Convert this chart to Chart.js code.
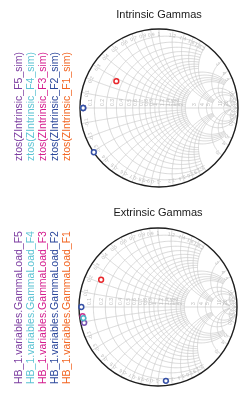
<!DOCTYPE html>
<html>
<head>
<meta charset="utf-8">
<script src="https://cdn.jsdelivr.net/npm/chart.js@4.4.0/dist/chart.umd.min.js"></script>
<style>
    html, body { margin: 0; padding: 0; background: #fff; }
    body { width: 250px; height: 405px; position: relative; overflow: hidden; font-family: "Liberation Sans", Arial, sans-serif; }
    .chart-box { position: absolute; left: 70px; width: 180px; }
    .legend { position: absolute; transform: rotate(-90deg); font-size: 10.5px; line-height: 12px; white-space: nowrap; }
    .legend div { height: 12px; }
</style>
</head>
<body>
<div class="chart-box" style="top:0; height:200px;"><canvas id="smith-intrinsic"></canvas></div>
<div class="chart-box" style="top:200px; height:205px;"><canvas id="smith-extrinsic"></canvas></div>
<div class="legend" id="legend-intrinsic"></div>
<div class="legend" id="legend-extrinsic"></div>

<script>
/* ── Trace naming (order: F5 .. F1, left to right in the legend) ── */
var intrinsicNames = ['ztos(ZIntrinsic_F5_sim)', 'ztos(ZIntrinsic_F4_sim)', 'ztos(ZIntrinsic_F3_sim)', 'ztos(ZIntrinsic_F2_sim)', 'ztos(ZIntrinsic_F1_sim)'];
var extrinsicNames = ['HB_1.variables.GammaLoad_F5', 'HB_1.variables.GammaLoad_F4', 'HB_1.variables.GammaLoad_F3', 'HB_1.variables.GammaLoad_F2', 'HB_1.variables.GammaLoad_F1'];
var legendColors = ['#7b3ca0', '#5cc3d3', '#d41a8c', '#2b479b', '#f26522'];
var markerColors = ['#7a55b2', '#4cb6c9', '#c8348f', '#3550a6', '#e8262b'];
// draw order: lower is on top (F2 markers sit above the others)
var markerOrder = [3, 2, 4, 0, 1];

/* ── Reflection coefficients [re, im] per trace ── */
var intrinsicGamma = [
    [[-0.96, 0.0]],
    [[-0.96, 0.0]],
    [[-0.96, 0.0]],
    [[-0.96, 0.0], [-0.825, -0.56]],
    [[-0.54, 0.34]]
];
var extrinsicGamma = [
    [[-0.935, -0.20]],
    [[-0.945, -0.14]],
    [[-0.955, -0.115]],
    [[-0.97, 0.0], [0.10, -0.935]],
    [[-0.72, 0.345]]
];

/* ── Smith grid values (resistance / reactance) ── */
var fineValues = [0.1, 0.2, 0.3, 0.4, 0.5, 0.6, 0.7, 0.8, 0.9, 1.0];
var midValues = [1.2, 1.4, 1.6, 1.8, 2.0];
var coarseValues = [3, 4, 5];
var outerValues = [10, 20];

var gridGroups = [
    { values: fineValues, limit: 2 },
    { values: midValues, limit: 5 },
    { values: coarseValues, limit: 20 },
    { values: outerValues, limit: Infinity }
];

// z = r + jx  ->  gamma
function zToGamma(r, x) {
    var den = (r + 1) * (r + 1) + x * x;
    return [(r * r - 1 + x * x) / den, (2 * x) / den];
}

function tanRange(limit, n) {
    var top = isFinite(limit) ? Math.atan(limit) : Math.PI / 2 - 1e-4;
    var out = [];
    for (var i = 0; i <= n; i++) out.push(Math.tan(top * i / n));
    return out;
}

var smithGrid = {
    id: 'smithGrid',
    beforeDatasetsDraw: function (chart) {
        var ctx = chart.ctx, sx = chart.scales.x, sy = chart.scales.y;
        var px = function (g) { return [sx.getPixelForValue(g[0]), sy.getPixelForValue(g[1])]; };
        var cx = sx.getPixelForValue(0), cy = sy.getPixelForValue(0);
        var rad = sx.getPixelForValue(1) - cx;

        ctx.save();
        ctx.beginPath();
        ctx.arc(cx, cy, rad, 0, Math.PI * 2);
        ctx.clip();
        ctx.strokeStyle = '#c9c9c9';
        ctx.lineWidth = 0.7;

        gridGroups.forEach(function (grp) {
            var samples = tanRange(grp.limit, 120);
            grp.values.forEach(function (v) {
                // resistance circle r = v, |x| <= limit
                ctx.beginPath();
                for (var i = -samples.length + 1; i < samples.length; i++) {
                    var xv = i < 0 ? -samples[-i] : samples[i];
                    var p = px(zToGamma(v, xv));
                    if (i === -samples.length + 1) ctx.moveTo(p[0], p[1]); else ctx.lineTo(p[0], p[1]);
                }
                ctx.stroke();
                // reactance arcs x = +-v, r <= limit
                [v, -v].forEach(function (xv) {
                    ctx.beginPath();
                    samples.forEach(function (rv, i) {
                        var p = px(zToGamma(rv, xv));
                        if (i === 0) ctx.moveTo(p[0], p[1]); else ctx.lineTo(p[0], p[1]);
                    });
                    ctx.stroke();
                });
            });
        });

        // real axis
        ctx.beginPath();
        ctx.moveTo(cx - rad, cy);
        ctx.lineTo(cx + rad, cy);
        ctx.stroke();

        // tiny value labels
        ctx.fillStyle = '#bdbdbd';
        ctx.font = '5px "Liberation Sans", Arial, sans-serif';
        var labelVals = fineValues.concat(midValues, coarseValues, outerValues);
        labelVals.forEach(function (v) {
            var p = px(zToGamma(v, 0));
            ctx.save();
            ctx.translate(p[0] - 1, p[1] - 2);
            ctx.rotate(-Math.PI / 2);
            ctx.textAlign = 'left';
            ctx.textBaseline = 'bottom';
            ctx.fillText(String(v), 0, 0);
            ctx.restore();

            [v, -v].forEach(function (xv) {
                var g = zToGamma(0, xv);
                var ang = Math.atan2(g[1], g[0]);
                var q = px([g[0] * 0.93, g[1] * 0.93]);
                ctx.save();
                ctx.translate(q[0], q[1]);
                ctx.rotate(-ang + Math.PI / 2);
                ctx.textAlign = 'center';
                ctx.textBaseline = 'middle';
                ctx.fillText(String(xv), 0, 0);
                ctx.restore();
            });
        });
        ctx.restore();

        // outer boundary
        ctx.save();
        ctx.beginPath();
        ctx.arc(cx, cy, rad, 0, Math.PI * 2);
        ctx.strokeStyle = '#1e1e1e';
        ctx.lineWidth = 1.4;
        ctx.stroke();
        ctx.restore();
    }
};

function buildSmith(canvasId, titleText, names, gammas, pad, titlePad) {
    var datasets = gammas.map(function (pts, i) {
        return {
            label: names[i],
            data: pts.map(function (g) { return { x: g[0], y: g[1] }; }),
            borderColor: markerColors[i],
            backgroundColor: '#ffffff',
            pointRadius: 2.4,
            pointBorderWidth: 1.5,
            showLine: false,
            clip: false,
            order: markerOrder[i]
        };
    });

    return new Chart(document.getElementById(canvasId), {
        type: 'scatter',
        data: { datasets: datasets },
        options: {
            responsive: true,
            maintainAspectRatio: false,
            animation: false,
            layout: { padding: pad },
            plugins: {
                legend: { display: false },
                tooltip: { enabled: false },
                title: {
                    display: true,
                    text: titleText,
                    color: '#1a1a1a',
                    font: { family: '"Liberation Sans", Arial, sans-serif', size: 11, weight: 'normal' },
                    padding: titlePad
                }
            },
            scales: {
                x: { type: 'linear', min: -1, max: 1, display: false },
                y: { type: 'linear', min: -1, max: 1, display: false }
            }
        },
        plugins: [smithGrid]
    });
}

function buildLegend(elId, names, centerX, centerY, width) {
    var el = document.getElementById(elId);
    var h = names.length * 12;
    el.style.width = width + 'px';
    el.style.height = h + 'px';
    el.style.left = (centerX - width / 2) + 'px';
    el.style.top = (centerY - h / 2) + 'px';
    names.forEach(function (n, i) {
        var d = document.createElement('div');
        d.textContent = n;
        d.style.color = legendColors[i];
        el.appendChild(d);
    });
}

buildSmith('smith-intrinsic', 'Intrinsic Gammas', intrinsicNames, intrinsicGamma,
    { left: 10, right: 12, top: 0, bottom: 13 }, { top: 8.7, bottom: 7.1 });
buildSmith('smith-extrinsic', 'Extrinsic Gammas', extrinsicNames, extrinsicGamma,
    { left: 9, right: 13, top: 0, bottom: 19 }, { top: 6.7, bottom: 8.1 });

buildLegend('legend-intrinsic', intrinsicNames, 41.5, 106, 110);
buildLegend('legend-extrinsic', extrinsicNames, 41.5, 306, 156);
</script>
</body>
</html>
